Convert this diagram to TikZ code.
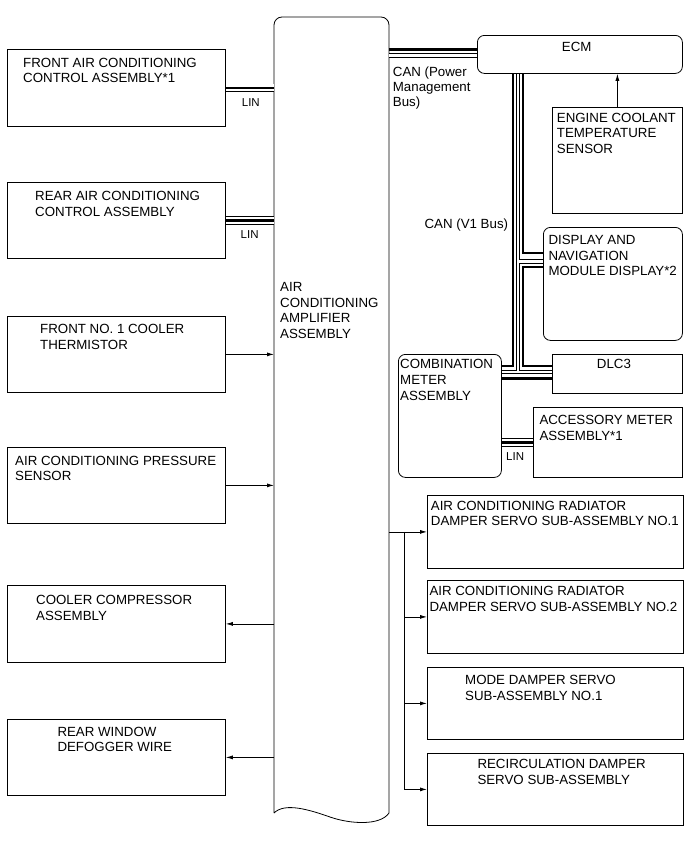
\documentclass[tikz,border=0pt]{standalone}
\usepackage{fontspec}
\setmainfont{Liberation Sans}
\usetikzlibrary{arrows.meta}

\begin{document}
\begin{tikzpicture}[
        x=1pt, y=-1pt,
        box/.style={rectangle, draw=black, line width=0.8pt, inner sep=0pt, anchor=north west},
        rbox/.style={box, rounded corners=7pt},
        txt/.style={anchor=north west, align=left, inner sep=0pt, font=\fontsize{13.3}{15.7}\selectfont},
        small_txt/.style={anchor=north west, inner sep=0pt, font=\fontsize{11.5}{13}\selectfont},
        wire/.style={line width=0.8pt, draw=black},
        sig/.style={wire, -{Latex[length=7pt, width=4pt]}},
        solid bus/.style={line width=2.6pt, draw=black},
        hollow bus/.style={double=white, double distance=2.8pt, line width=0.9pt},
        lin bus/.style={double=white, double distance=7pt, line width=0.8pt}
    ]

        \useasboundingbox (0,0) rectangle (691,854);

        % amplifier
        \node[inner sep=0pt, anchor=north west, minimum width=115pt, minimum height=796pt] (amp) at (274,17) {};
        \draw[line width=0.8pt] (274,813) [rounded corners=8pt] -- (274,17) -- (389,17) -- (389,700) [sharp corners] -- (389,813)
            .. controls (380,826) and (350,824) .. (330,817)
            .. controls (310,810) and (285,802) .. (274,813);
        \node[txt] (amp-t) at (280,282) {AIR\\CONDITIONING\\AMPLIFIER\\ASSEMBLY};

        % left side
        \node[box, minimum width=218pt, minimum height=77pt] (front) at (7,49) {};
        \node[txt] (front-t) at (23,57.7) {FRONT AIR CONDITIONING\\CONTROL ASSEMBLY*1};

        \node[box, minimum width=218pt, minimum height=76pt] (rear) at (7,182) {};
        \node[txt] (rear-t) at (35,191) {REAR AIR CONDITIONING\\CONTROL ASSEMBLY};

        \node[box, minimum width=218pt, minimum height=76pt] (therm) at (7,316) {};
        \node[txt] (therm-t) at (40,324) {FRONT NO. 1 COOLER\\THERMISTOR};

        \node[box, minimum width=218pt, minimum height=76pt] (press) at (7,447) {};
        \node[txt] (press-t) at (15,455.7) {AIR CONDITIONING PRESSURE\\SENSOR};

        \node[box, minimum width=218pt, minimum height=77pt] (comp) at (7,585) {};
        \node[txt] (comp-t) at (36,595) {COOLER COMPRESSOR\\ASSEMBLY};

        \node[box, minimum width=218pt, minimum height=76pt] (defog) at (7,719) {};
        \node[txt] (defog-t) at (57.3,726.7) {REAR WINDOW\\DEFOGGER WIRE};

        \draw[lin bus] (front.east) -- (amp.west |- front.east);
        \draw[solid bus] (front.east) -- (amp.west |- front.east);
        \node[small_txt] (lin1-t) at (241.7,98.3) {LIN};

        \draw[lin bus] (rear.east) -- (amp.west |- rear.east);
        \draw[solid bus] (rear.east) -- (amp.west |- rear.east);
        \node[small_txt] (lin2-t) at (240.5,230) {LIN};

        \draw[sig] (therm.east) -- (amp.west |- therm.east);
        \draw[sig] (press.east) -- (amp.west |- press.east);
        \draw[sig] (amp.west |- comp.east) -- (comp.east);
        \draw[sig] (amp.west |- defog.east) -- (defog.east);

        % upper right
        \node[rbox, minimum width=205pt, minimum height=38pt] (ecm) at (477,35) {};
        \node[txt] (ecm-t) at (561.7,41.7) {ECM};

        \node[box, minimum width=130pt, minimum height=106pt] (sensor) at (552,107) {};
        \node[txt] (sensor-t) at (556.7,112.7) {ENGINE COOLANT\\TEMPERATURE\\SENSOR};

        \node[rbox, minimum width=139pt, minimum height=113pt] (disp) at (543,227) {};
        \node[txt] (disp-t) at (548.3,235) {DISPLAY AND\\NAVIGATION\\MODULE DISPLAY*2};

        \node[box, minimum width=130pt, minimum height=39pt] (dlc) at (552,354) {};
        \node[txt] (dlc-t) at (596.7,359.3) {DLC3};

        \node[rbox, minimum width=103pt, minimum height=123pt] (comb) at (398,354) {};
        \node[txt] (comb-t) at (400,359.3) {COMBINATION\\METER\\ASSEMBLY};

        \node[box, minimum width=149pt, minimum height=70pt] (acc) at (533,407) {};
        \node[txt] (acc-t) at (539.3,415) {ACCESSORY METER\\ASSEMBLY*1};

        \draw[sig] (sensor.north) -- (sensor.north |- ecm.south);

        \coordinate (pA) at (0,49.3);
        \coordinate (pB) at (0,55.3);
        \draw[solid bus] (amp.east |- pA) -- (ecm.west |- pA);
        \draw[hollow bus] (amp.east |- pB) -- (ecm.west |- pB);
        \node[txt, font=\fontsize{13.3}{15}\selectfont] (pwr-t) at (392.7,67) {CAN (Power\\Management\\Bus)};

        \coordinate (v1L) at (513,0);
        \coordinate (v1H) at (518,0);
        \coordinate (v1R) at (523,0);
        \coordinate (dA) at (0,253);
        \coordinate (dB) at (0,261.5);
        \coordinate (dC) at (0,267);
        \coordinate (dE) at (0,366);
        \coordinate (dF) at (0,372);
        \coordinate (dG) at (0,378.5);

        \draw[solid bus] (v1R |- ecm.south) |- (disp.west |- dA);
        \draw[solid bus] (disp.west |- dC) -| (v1R |- dE) -- (dlc.west |- dE);
        \draw[solid bus] (v1L |- ecm.south) |- (comb.east |- dE);
        \draw[solid bus] (comb.east |- dG) -- (dlc.west |- dG);
        \draw[hollow bus] (v1H |- ecm.south) -- (v1H |- dF)
                          (v1H |- dB) -- (disp.west |- dB)
                          (comb.east |- dF) -- (dlc.west |- dF);
        \node[txt, anchor=north east] (v1-t) at (508.3,219) {CAN (V1 Bus)};

        \draw[lin bus] (comb.east |- acc.west) -- (acc.west);
        \draw[solid bus] (comb.east |- acc.west) -- (acc.west);
        \node[small_txt] (lin3-t) at (506,452.3) {LIN};

        % lower right
        \node[box, minimum width=256pt, minimum height=73pt] (r1) at (427,495) {};
        \node[txt] (r1-t) at (430.7,500.7) {AIR CONDITIONING RADIATOR\\DAMPER SERVO SUB-ASSEMBLY NO.1};

        \node[box, minimum width=256pt, minimum height=73pt] (r2) at (427,580) {};
        \node[txt] (r2-t) at (429.3,586) {AIR CONDITIONING RADIATOR\\DAMPER SERVO SUB-ASSEMBLY NO.2};

        \node[box, minimum width=256pt, minimum height=72pt] (r3) at (427,667) {};
        \node[txt] (r3-t) at (465,675) {MODE DAMPER SERVO\\SUB-ASSEMBLY NO.1};

        \node[box, minimum width=256pt, minimum height=72pt] (r4) at (427,753) {};
        \node[txt] (r4-t) at (477.3,759) {RECIRCULATION DAMPER\\SERVO SUB-ASSEMBLY};

        \coordinate (tap) at (404,0);
        \draw[sig] (amp.east |- r1.west) -- (r1.west);
        \draw[wire] (tap |- r1.west) -- (tap |- r4.west);
        \foreach \n in {r2,r3,r4}
            \draw[sig] (tap |- \n.west) -- (\n.west);

    \end{tikzpicture}
\end{document}
